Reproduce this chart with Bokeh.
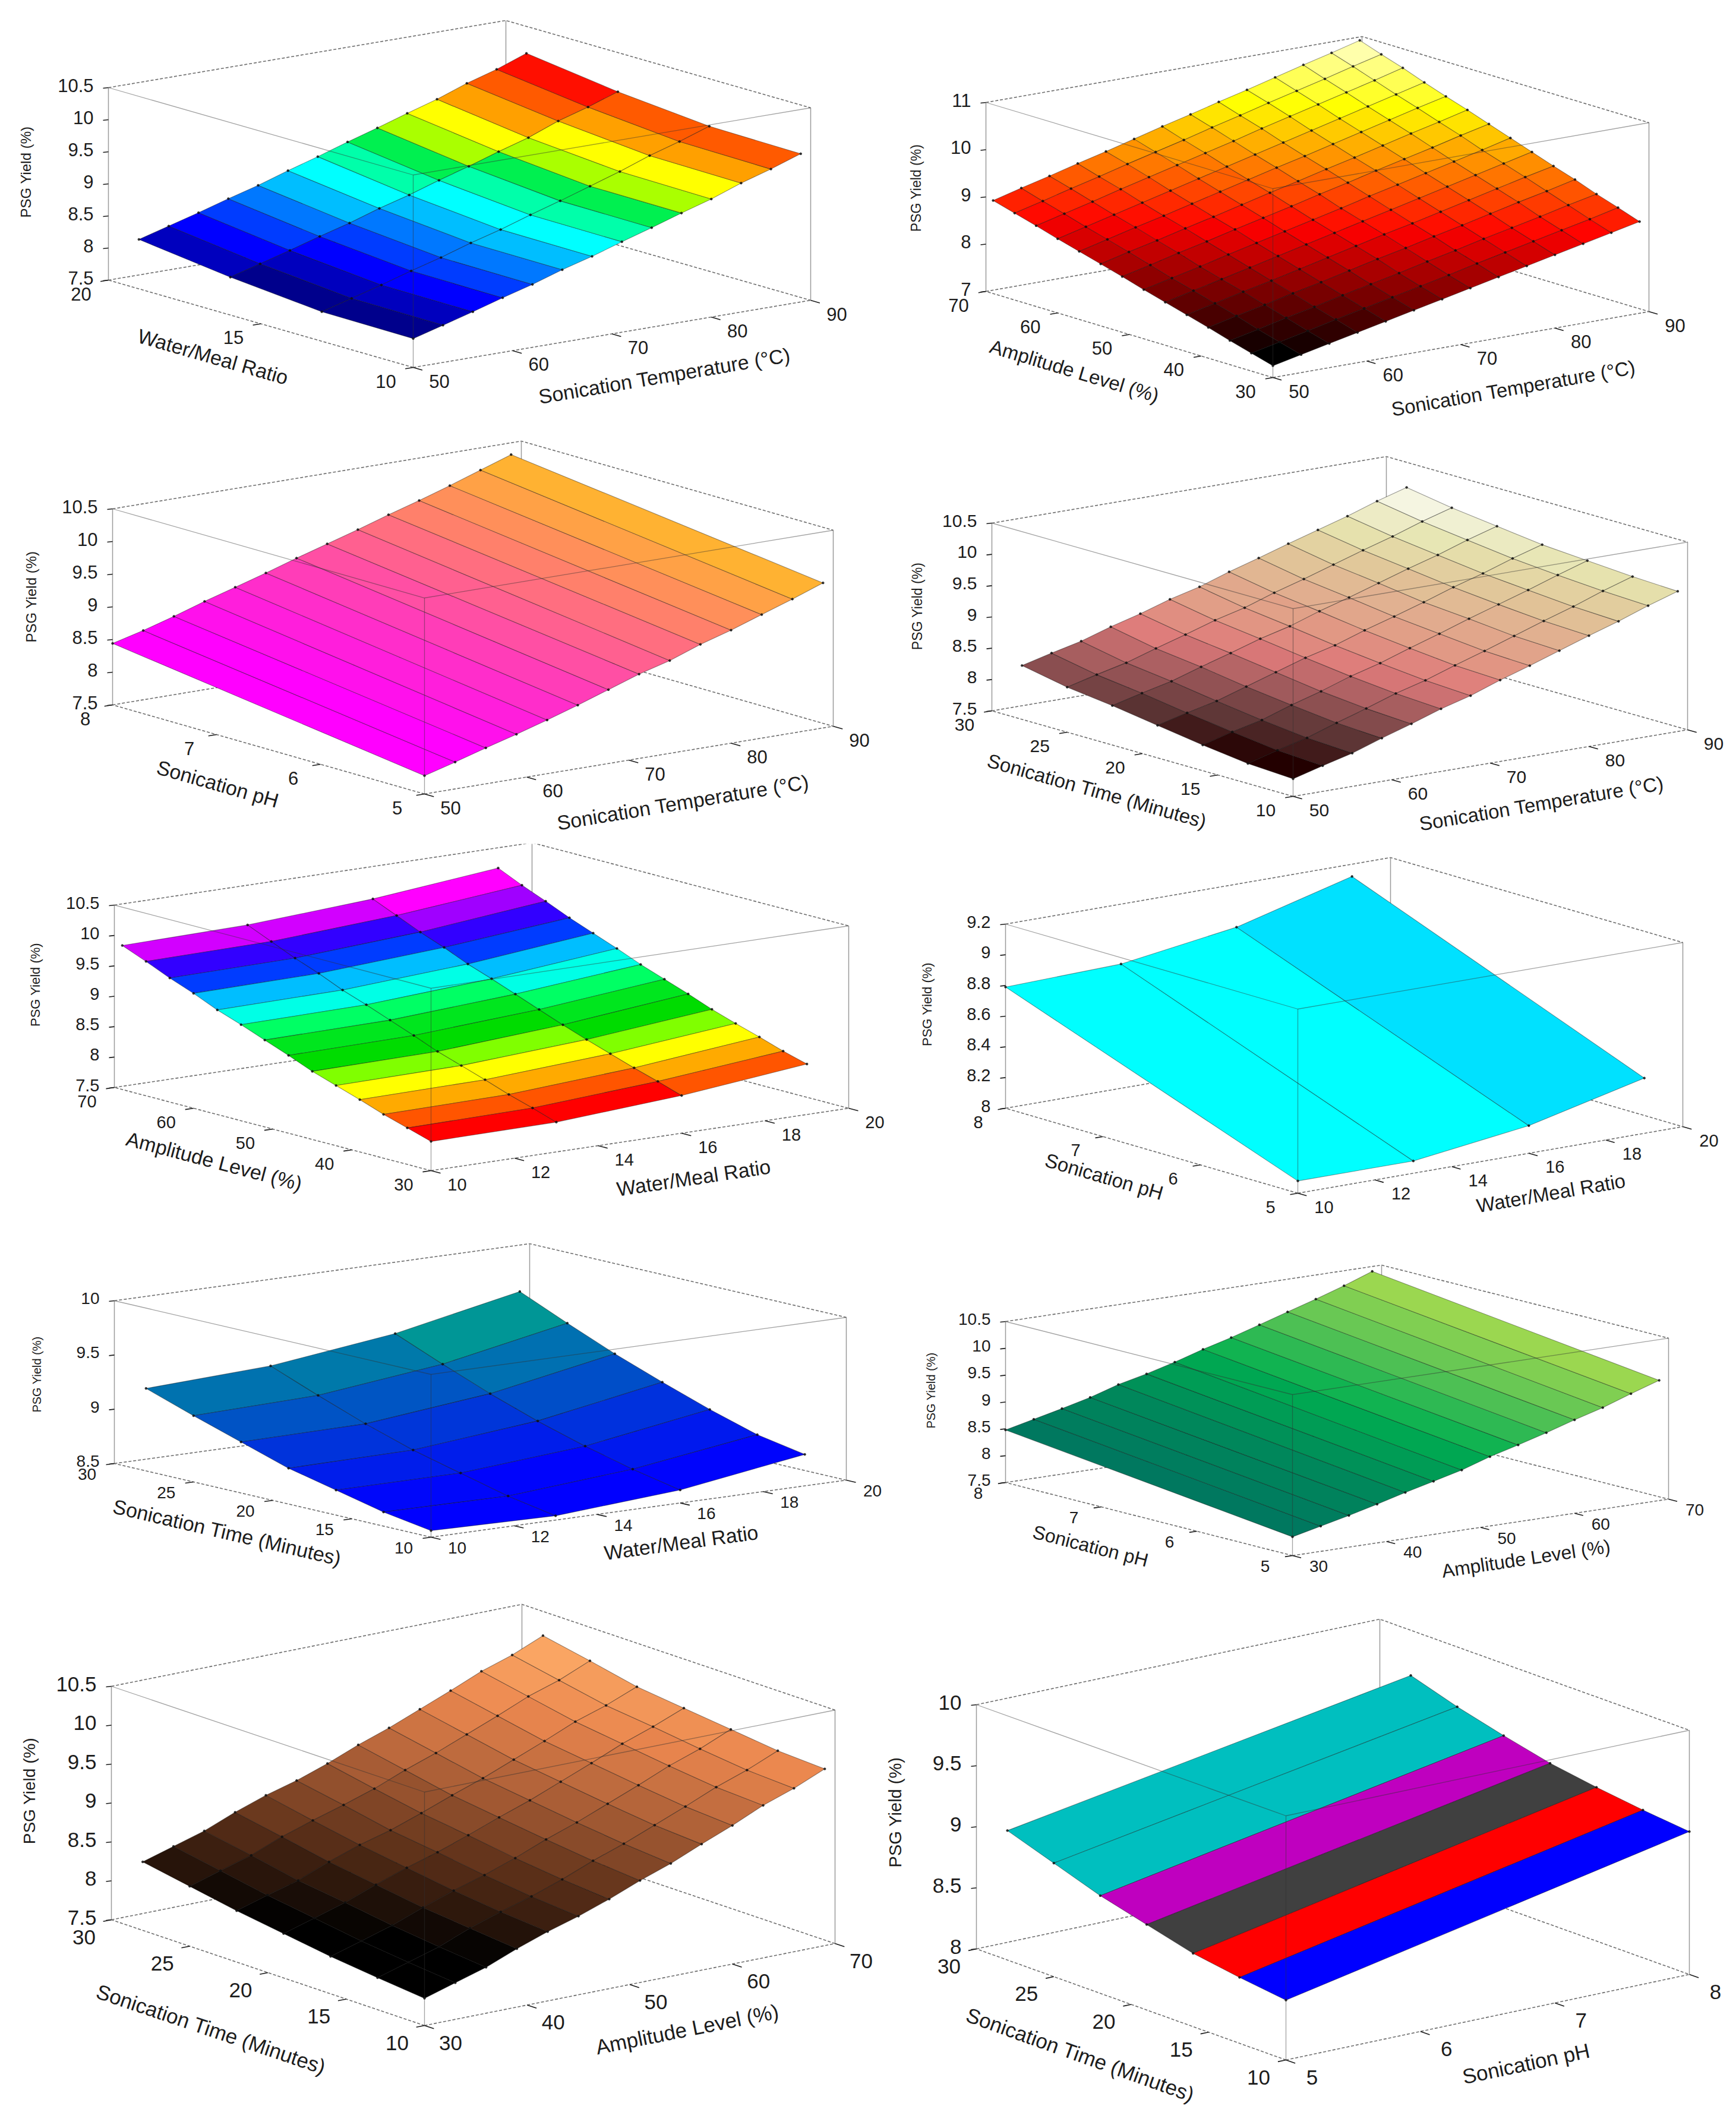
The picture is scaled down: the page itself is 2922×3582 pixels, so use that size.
import math
from bokeh.core.properties import value
from bokeh.embed import file_html
from bokeh.layouts import column, row
from bokeh.models import Range1d
from bokeh.plotting import figure
from bokeh.resources import INLINE

# ---------- shared tick lists and axis titles ----------
TEMP_TICKS = [50, 60, 70, 80, 90]
AMP_TICKS = [30, 40, 50, 60, 70]
PH_TICKS = [5, 6, 7, 8]
RATIO_TICKS_A = [10, 15, 20]
RATIO_TICKS_B = [10, 12, 14, 16, 18, 20]
TIME_TICKS = [10, 15, 20, 25, 30]
Z_TICKS_A = [7.5, 8, 8.5, 9, 9.5, 10, 10.5]
Z_TICKS_B = [7, 8, 9, 10, 11]
Z_TICKS_C = [8, 8.2, 8.4, 8.6, 8.8, 9, 9.2]
Z_TICKS_D = [8.5, 9, 9.5, 10]
Z_TICKS_E = [8, 8.5, 9, 9.5, 10]

TEMP = "Sonication Temperature (°C)"
AMP = "Amplitude Level (%)"
PH = "Sonication pH"
RATIO = "Water/Meal Ratio"
TIME = "Sonication Time (Minutes)"
YIELD = "PSG Yield (%)"

# ---------- mesh nodes ----------
TEMP_NODES = [50, 53, 56, 59, 62, 65, 68, 71, 74, 77, 80, 83, 86, 89]
AMP_NODES = [30, 33, 36, 39, 42, 45, 48, 51, 54, 57, 60, 63, 66, 69]
RATIO_NODES = [10, 13, 16, 19]
TIME_NODES = [10, 13, 16, 19, 22, 25, 28]
PH_NODES = [5, 8]

# ---------- surface values (rows follow the y nodes) ----------
P1_Z = [
    [7.95, 8.08, 8.21, 8.35, 8.48, 8.63, 8.76, 8.91, 9.05, 9.20, 9.34, 9.51, 9.65, 9.81],
    [7.96, 8.09, 8.22, 8.36, 8.49, 8.64, 8.77, 8.92, 9.06, 9.21, 9.36, 9.53, 9.67, 9.83],
    [8.09, 8.22, 8.35, 8.49, 8.62, 8.77, 8.90, 9.05, 9.19, 9.34, 9.48, 9.66, 9.80, 9.96],
    [8.27, 8.40, 8.53, 8.67, 8.80, 8.95, 9.09, 9.24, 9.38, 9.53, 9.67, 9.84, 9.98, 10.15],
]
P2_Z = [
    [7.25, 7.38, 7.51, 7.64, 7.77, 7.90, 8.03, 8.16, 8.29, 8.42, 8.55, 8.68, 8.81, 8.94],
    [7.38, 7.51, 7.64, 7.78, 7.91, 8.04, 8.17, 8.30, 8.44, 8.57, 8.70, 8.83, 8.96, 9.10],
    [7.51, 7.64, 7.78, 7.91, 8.05, 8.18, 8.31, 8.45, 8.58, 8.72, 8.85, 8.98, 9.12, 9.25],
    [7.65, 7.79, 7.92, 8.06, 8.19, 8.33, 8.47, 8.60, 8.74, 8.87, 9.01, 9.15, 9.28, 9.42],
    [7.78, 7.92, 8.06, 8.19, 8.33, 8.47, 8.61, 8.75, 8.88, 9.02, 9.16, 9.30, 9.44, 9.57],
    [7.91, 8.05, 8.19, 8.33, 8.47, 8.61, 8.75, 8.89, 9.03, 9.17, 9.31, 9.45, 9.59, 9.73],
    [8.04, 8.18, 8.32, 8.47, 8.61, 8.75, 8.89, 9.03, 9.18, 9.32, 9.46, 9.60, 9.74, 9.89],
    [8.18, 8.32, 8.47, 8.61, 8.76, 8.90, 9.04, 9.19, 9.33, 9.48, 9.62, 9.76, 9.91, 10.05],
    [8.31, 8.46, 8.60, 8.75, 8.89, 9.04, 9.19, 9.33, 9.48, 9.62, 9.77, 9.92, 10.06, 10.21],
    [8.44, 8.59, 8.74, 8.88, 9.03, 9.18, 9.33, 9.48, 9.62, 9.77, 9.92, 10.07, 10.22, 10.36],
    [8.57, 8.72, 8.87, 9.02, 9.17, 9.32, 9.47, 9.62, 9.77, 9.92, 10.07, 10.22, 10.37, 10.52],
    [8.71, 8.86, 9.01, 9.17, 9.32, 9.47, 9.62, 9.77, 9.93, 10.08, 10.23, 10.38, 10.53, 10.69],
    [8.84, 8.99, 9.15, 9.30, 9.46, 9.61, 9.76, 9.92, 10.07, 10.23, 10.38, 10.53, 10.69, 10.84],
    [8.97, 9.13, 9.28, 9.44, 9.59, 9.75, 9.91, 10.06, 10.22, 10.37, 10.53, 10.69, 10.84, 11.00],
]
P3_Z = [
    [7.78, 7.91, 8.05, 8.18, 8.32, 8.47, 8.63, 8.79, 8.92, 9.09, 9.23, 9.39, 9.55, 9.72],
    [8.44, 8.56, 8.70, 8.85, 8.99, 9.13, 9.28, 9.42, 9.56, 9.71, 9.85, 10.00, 10.16, 10.32],
]
P4_Z = [
    [7.78, 7.91, 8.03, 8.19, 8.34, 8.50, 8.63, 8.80, 8.95, 9.11, 9.27, 9.42, 9.59, 9.74],
    [7.82, 7.95, 8.07, 8.23, 8.38, 8.54, 8.67, 8.83, 8.98, 9.14, 9.30, 9.45, 9.62, 9.77],
    [7.91, 8.04, 8.15, 8.31, 8.45, 8.61, 8.74, 8.90, 9.05, 9.21, 9.36, 9.51, 9.67, 9.82],
    [8.02, 8.14, 8.25, 8.40, 8.55, 8.70, 8.82, 8.98, 9.12, 9.27, 9.43, 9.57, 9.73, 9.87],
    [8.13, 8.25, 8.36, 8.51, 8.65, 8.80, 8.92, 9.08, 9.22, 9.37, 9.52, 9.66, 9.82, 9.96],
    [8.22, 8.34, 8.45, 8.60, 8.74, 8.89, 9.01, 9.17, 9.31, 9.46, 9.61, 9.75, 9.91, 10.05],
    [8.36, 8.48, 8.59, 8.74, 8.87, 9.02, 9.14, 9.30, 9.44, 9.59, 9.73, 9.87, 10.03, 10.17],
]
P5_Z = [
    [7.98, 7.99, 8.12, 8.33],
    [8.10, 8.12, 8.25, 8.44],
    [8.22, 8.24, 8.37, 8.57],
    [8.36, 8.38, 8.50, 8.69],
    [8.49, 8.51, 8.63, 8.82],
    [8.62, 8.64, 8.77, 8.97],
    [8.78, 8.80, 8.92, 9.11],
    [8.93, 8.95, 9.07, 9.25],
    [9.08, 9.10, 9.22, 9.41],
    [9.22, 9.24, 9.36, 9.56],
    [9.39, 9.41, 9.53, 9.71],
    [9.54, 9.56, 9.68, 9.88],
    [9.71, 9.73, 9.85, 10.04],
    [9.87, 9.90, 10.02, 10.22],
]
P6_Z = [
    [8.08, 8.08, 8.18, 8.36],
    [8.79, 8.81, 8.92, 9.12],
]
P7_Z = [
    [8.56, 8.54, 8.62, 8.79],
    [8.63, 8.62, 8.71, 8.87],
    [8.73, 8.73, 8.82, 9.00],
    [8.83, 8.84, 8.95, 9.15],
    [8.97, 8.98, 9.10, 9.31],
    [9.11, 9.14, 9.27, 9.49],
    [9.26, 9.31, 9.45, 9.68],
]
P8_Z = [
    [7.85, 7.97, 8.09, 8.22, 8.36, 8.49, 8.62, 8.79, 8.93, 9.08, 9.24, 9.39, 9.57, 9.74],
    [8.48, 8.60, 8.72, 8.85, 9.01, 9.13, 9.27, 9.43, 9.57, 9.73, 9.89, 10.05, 10.22, 10.41],
]
P9_Z = [
    [7.85, 7.97, 8.09, 8.25, 8.39, 8.51, 8.65, 8.81, 8.95, 9.12, 9.28, 9.46, 9.60, 9.77],
    [7.91, 8.03, 8.15, 8.31, 8.44, 8.56, 8.70, 8.86, 9.00, 9.16, 9.32, 9.49, 9.63, 9.80],
    [7.98, 8.10, 8.22, 8.37, 8.51, 8.63, 8.77, 8.93, 9.07, 9.23, 9.39, 9.56, 9.70, 9.87],
    [8.07, 8.19, 8.31, 8.46, 8.60, 8.72, 8.86, 9.01, 9.15, 9.31, 9.47, 9.64, 9.78, 9.94],
    [8.16, 8.28, 8.39, 8.55, 8.69, 8.80, 8.94, 9.09, 9.23, 9.39, 9.55, 9.72, 9.85, 10.01],
    [8.27, 8.39, 8.51, 8.67, 8.80, 8.92, 9.05, 9.21, 9.35, 9.51, 9.67, 9.84, 9.97, 10.14],
    [8.38, 8.50, 8.62, 8.78, 8.92, 9.03, 9.17, 9.33, 9.47, 9.63, 9.79, 9.96, 10.09, 10.26],
]
P10_Z = [
    [8.49, 9.17],
    [8.54, 9.21],
    [8.60, 9.26],
    [8.70, 9.32],
    [8.80, 9.41],
    [8.93, 9.51],
    [9.06, 9.63],
]

# ---------- colour maps ----------
JET_BANDS = ["#00008c", "#0000be", "#0000ff", "#003cff", "#0078ff", "#00beff", "#00ffff", "#00ffaa",
             "#00f050", "#aaff00", "#ffff00", "#ffa000", "#ff5a00", "#ff0f00", "#ff0000"]
HOT = ["#000000", "#550000", "#aa0000", "#ff0000", "#ff5500", "#ffaa00", "#ffff00", "#ffff80", "#ffffff"]
SPRING = ["#ff00ff", "#ffb232"]
PINK = ["#230000", "#603838", "#a05a5c", "#de7a7a", "#e19a85", "#e1b090", "#e1c89a", "#e6e4af", "#f5f5e1"]
HSV_BANDS = ["#ff0000", "#ff5500", "#ffaa00", "#ffff00", "#80ff00", "#00dc00", "#00e61e", "#00ff64",
             "#00ffe6", "#00beff", "#003cff", "#3200ff", "#a000ff", "#d200ff", "#ff00ff"]
CYAN_BANDS = ["#00ffff", "#00e1ff"]
WINTER = ["#0000ff", "#009696"]
SUMMER = ["#00785f", "#008a5a", "#00af50", "#5ac355", "#9bd750"]
COPPER = ["#000000", "#5a2f18", "#aa5e36", "#ea864e", "#ffaf69"]
LINES_BANDS = ["#0000ff", "#ff0000", "#404040", "#bf00bf", "#00bfbf"]

# ---------- panels: layout and projection are kept apart from the values above ----------
PANELS = [
    dict(x=TEMP_NODES, y=RATIO_NODES, z=P1_Z, xt=TEMP_TICKS, yt=RATIO_TICKS_A, zt=Z_TICKS_A, xl=TEMP, yl=RATIO,
         O=(697, 622), R=(1366, 509), L=(184, 475), H=324, xp=(1120, 636), yp=(360, 604), zp=(45, 293),
         cmap=JET_BANDS, clim=(7.95, 9.91), bands=True, fs=31, lfs=34, zfs=24, dy=23),
    dict(x=TEMP_NODES, y=AMP_NODES, z=P2_Z, xt=TEMP_TICKS, yt=AMP_TICKS, zt=Z_TICKS_B, xl=TEMP, yl=AMP,
         O=(2144, 639), R=(2777, 528), L=(1661, 494), H=318, xp=(2549, 657), yp=(1810, 628), zp=(1543, 320),
         cmap=HOT, clim=(7.25, 11.0), bands=False, fs=31, lfs=33, zfs=23, dy=23),
    dict(x=TEMP_NODES, y=PH_NODES, z=P3_Z, xt=TEMP_TICKS, yt=PH_TICKS, zt=Z_TICKS_A, xl=TEMP, yl=PH,
         O=(716, 1340), R=(1404, 1226), L=(191, 1190), H=330, xp=(1151, 1354), yp=(368, 1323), zp=(54, 1008),
         cmap=SPRING, clim=(7.9, 9.55), bands=False, fs=31, lfs=34, zfs=24, dy=23),
    dict(x=TEMP_NODES, y=TIME_NODES, z=P4_Z, xt=TEMP_TICKS, yt=TIME_TICKS, zt=Z_TICKS_A, xl=TEMP, yl=TIME,
         O=(2178, 1344), R=(2842, 1232), L=(1671, 1200), H=316, xp=(2596, 1356), yp=(1848, 1335), zp=(1545, 1024),
         cmap=PINK, clim=(7.78, 9.9), bands=False, fs=30, lfs=33, zfs=23, dy=23),
    dict(x=RATIO_NODES, y=AMP_NODES, z=P5_Z, xt=RATIO_TICKS_B, yt=AMP_TICKS, zt=Z_TICKS_A, xl=RATIO, yl=AMP,
         O=(727, 1974), R=(1430, 1869), L=(194, 1834), H=307, xp=(1169, 1986), yp=(362, 1958), zp=(61, 1661),
         cmap=HSV_BANDS, clim=(7.98, 9.91), bands=True, fs=29, lfs=34, zfs=22, dy=23),
    dict(x=RATIO_NODES, y=PH_NODES, z=P6_Z, xt=RATIO_TICKS_B, yt=PH_TICKS, zt=Z_TICKS_C, xl=RATIO, yl=PH,
         O=(2186, 2012), R=(2834, 1900), L=(1694, 1869), H=310, xp=(2612, 2012), yp=(1860, 1984), zp=(1562, 1694),
         cmap=CYAN_BANDS, clim=(8.08, 8.18), bands=True, fs=29, lfs=33, zfs=22, dy=23),
    dict(x=RATIO_NODES, y=TIME_NODES, z=P7_Z, xt=RATIO_TICKS_B, yt=TIME_TICKS, zt=Z_TICKS_D, xl=RATIO, yl=TIME,
         O=(727, 2591), R=(1426, 2495), L=(194, 2467), H=274, xp=(1148, 2600), yp=(384, 2583), zp=(63, 2317),
         cmap=WINTER, clim=(8.6, 9.27), bands=False, fs=28, lfs=34, zfs=20, dy=18),
    dict(x=AMP_NODES, y=PH_NODES, z=P8_Z, xt=AMP_TICKS, yt=PH_TICKS, zt=Z_TICKS_A, xl=AMP, yl=PH,
         O=(2177, 2622), R=(2810, 2527), L=(1694, 2499), H=271, xp=(2570, 2627), yp=(1837, 2606), zp=(1568, 2344),
         cmap=SUMMER, clim=(7.85, 9.57), bands=False, fs=28, lfs=32, zfs=20, dy=18),
    dict(x=AMP_NODES, y=TIME_NODES, z=P9_Z, xt=AMP_TICKS, yt=TIME_TICKS, zt=Z_TICKS_A, xl=AMP, yl=TIME,
         O=(716, 3413), R=(1407, 3275), L=(189, 3235), H=393, xp=(1158, 3419), yp=(357, 3419), zp=(51, 3018),
         cmap=COPPER, clim=(8.05, 10.09), bands=False, fs=35, lfs=35, zfs=28, dy=29),
    dict(x=PH_NODES, y=TIME_NODES, z=P10_Z, xt=PH_TICKS, yt=TIME_TICKS, zt=Z_TICKS_E, xl=PH, yl=TIME,
         O=(2166, 3471), R=(2845, 3327), L=(1645, 3284), H=411, xp=(2570, 3477), yp=(1820, 3462), zp=(1508, 3054),
         cmap=LINES_BANDS, clim=(8.49, 8.77), bands=True, fs=35, lfs=35, zfs=29, dy=29),
]

COL_EDGES = [0, 1490, 2906]
ROW_EDGES = [0, 720, 1420, 2080, 2680, 3566]
SHIFT_X, SHIFT_Y = 6, 4
FONT = value("Liberation Sans")
INK = "#1c1c1c"


def hex_rgb(h):
    return tuple(int(h[i:i + 2], 16) for i in (1, 3, 5))


def colour(val, c):
    lo, hi = c["clim"]
    f = min(1.0, max(0.0, (val - lo) / (hi - lo)))
    pal = c["cmap"]
    pos = f * (len(pal) - 1)
    if c["bands"]:
        return pal[int(round(pos))]
    i = min(int(pos), len(pal) - 2)
    a, b = hex_rgb(pal[i]), hex_rgb(pal[i + 1])
    w = pos - i
    return "#%02x%02x%02x" % tuple(int(round(a[n] + (b[n] - a[n]) * w)) for n in range(3))


def project(c, x, y, z):
    xt, yt, zt = c["xt"], c["yt"], c["zt"]
    t = (x - xt[0]) / (xt[-1] - xt[0])
    u = (y - yt[0]) / (yt[-1] - yt[0])
    v = (z - zt[0]) / (zt[-1] - zt[0])
    O, R, L = c["O"], c["R"], c["L"]
    return (O[0] + t * (R[0] - O[0]) + u * (L[0] - O[0]),
            O[1] + t * (R[1] - O[1]) + u * (L[1] - O[1]) - v * c["H"])


def draw(c, col, rw):
    x0, x1 = COL_EDGES[col] + 8 - SHIFT_X, COL_EDGES[col + 1] + 8 - SHIFT_X
    y0, y1 = ROW_EDGES[rw] + 8 - SHIFT_Y, ROW_EDGES[rw + 1] + 8 - SHIFT_Y
    p = figure(width=x1 - x0, height=y1 - y0, output_backend="svg", toolbar_location=None,
               x_range=Range1d(x0, x1), y_range=Range1d(y1, y0), min_border=0,
               background_fill_color="white", border_fill_color="white")
    p.axis.visible = False
    p.grid.visible = False
    p.outline_line_color = None

    xt, yt, zt = c["xt"], c["yt"], c["zt"]
    xa, xb, ya, yb, za, zb = xt[0], xt[-1], yt[0], yt[-1], zt[0], zt[-1]

    def seg(corners, **kw):
        pts = [project(c, *q) for q in corners]
        p.line([q[0] for q in pts], [q[1] for q in pts], **kw)

    slanted = dict(line_color="#6e6e6e", line_width=1.6, line_dash=[5, 3])
    upright = dict(line_color="#9a9a9a", line_width=1.5)
    seg([(xa, yb, zb), (xb, yb, zb), (xb, ya, zb)], **slanted)
    seg([(xb, yb, za), (xb, yb, zb)], **upright)
    seg([(xa, yb, za), (xb, yb, za), (xb, ya, za)], **slanted)
    seg([(xa, yb, za), (xa, yb, zb)], **upright)
    seg([(xb, ya, za), (xb, ya, zb)], **upright)
    seg([(xa, ya, za), (xa, yb, za)], **slanted)
    seg([(xa, ya, za), (xb, ya, za)], **slanted)

    X, Y, Z = c["x"], c["y"], c["z"]
    xs, ys, fills = [], [], []
    for m in range(len(Y) - 2, -1, -1):
        for k in range(len(X) - 1):
            cell = [project(c, X[a], Y[b], Z[b][a])
                    for a, b in ((k, m), (k + 1, m), (k + 1, m + 1), (k, m + 1))]
            xs.append([q[0] for q in cell])
            ys.append([q[1] for q in cell])
            fills.append(colour(Z[m][k], c))
    p.patches(xs, ys, fill_color=fills, line_color="#101010", line_alpha=0.42, line_width=1.1)

    nodes = [project(c, X[k], Y[m], Z[m][k]) for m in range(len(Y)) for k in range(len(X))]
    p.scatter([q[0] for q in nodes], [q[1] for q in nodes], size=3.5, color="#101010", alpha=0.8)

    front = dict(line_color="#303030", line_width=1.3, line_alpha=0.45)
    seg([(xa, yb, zb), (xa, ya, zb), (xb, ya, zb)], **front)
    seg([(xa, ya, za), (xa, ya, zb)], **front)

    text = dict(text_font=FONT, text_color=INK, text_baseline="middle")
    dx_x, dx_y = c["R"][0] - c["O"][0], c["R"][1] - c["O"][1]
    dy_x, dy_y = c["L"][0] - c["O"][0], c["L"][1] - c["O"][1]

    for v in xt:
        a = project(c, v, ya, za)
        p.segment([a[0]], [a[1]], [a[0] - 0.03 * dy_x], [a[1] - 0.03 * dy_y], line_color=INK, line_width=1.6)
        p.text([a[0] + 44], [a[1] + c["dy"]], text=[f"{v:g}"], text_align="center",
               text_font_size=f"{c['fs']}px", **text)
    for v in yt:
        a = project(c, xa, v, za)
        p.segment([a[0]], [a[1]], [a[0] - 0.02 * dx_x], [a[1] - 0.02 * dx_y], line_color=INK, line_width=1.6)
        p.text([a[0] - 46], [a[1] + c["dy"]], text=[f"{v:g}"], text_align="center",
               text_font_size=f"{c['fs']}px", **text)
    for v in zt:
        a = project(c, xa, yb, v)
        p.segment([a[0]], [a[1]], [a[0] - 9], [a[1] + 1], line_color=INK, line_width=1.6)
        p.text([a[0] - 25], [a[1] - 4], text=[f"{v:g}"], text_align="right",
               text_font_size=f"{c['fs']}px", **text)

    right_angle = math.atan2(abs(dx_y), abs(dx_x))
    left_angle = -math.atan2(abs(dy_y), abs(dy_x))
    p.text([c["xp"][0]], [c["xp"][1]], text=[c["xl"]], angle=right_angle, text_align="center",
           text_font_size=f"{c['lfs']}px", **text)
    p.text([c["yp"][0]], [c["yp"][1]], text=[c["yl"]], angle=left_angle, text_align="center",
           text_font_size=f"{c['lfs']}px", **text)
    p.text([c["zp"][0]], [c["zp"][1]], text=[YIELD], angle=math.pi / 2, text_align="center",
           text_font_size=f"{c['zfs']}px", **text)
    return p


rows = []
for r in range(5):
    rows.append(row(draw(PANELS[2 * r], 0, r), draw(PANELS[2 * r + 1], 1, r)))
page = column(*rows)

open("out.html", "w").write(file_html(page, INLINE))
